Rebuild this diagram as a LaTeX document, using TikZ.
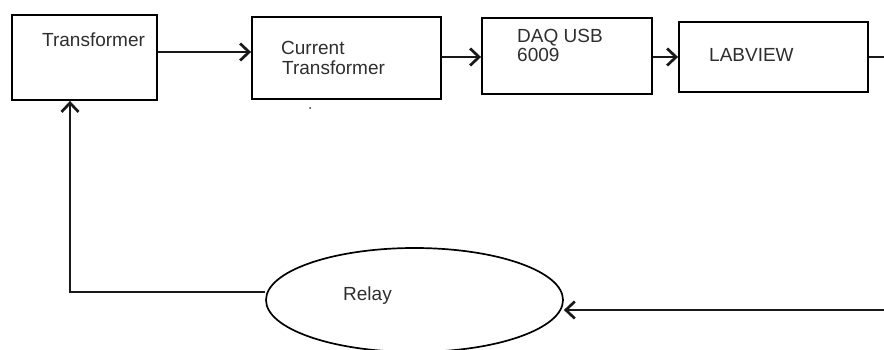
\documentclass[tikz,border=0pt]{standalone}
\usepackage{fontspec}
\setmainfont{Liberation Sans}
\usetikzlibrary{arrows.meta,shapes.geometric}
\begin{document}
\begin{tikzpicture}[x=1pt,y=-1pt,
  box/.style={draw=black,line width=1.9pt,rectangle,inner sep=0pt},
  lbl/.style={text=black!82,font=\fontsize{19}{21}\selectfont,inner sep=0pt,anchor=base west,align=left},
  conn/.style={draw=black!90,line width=1.7pt},
  arr/.style={conn,-{Straight Barb[length=9pt,width=17pt,line width=2.7pt]}}]
\useasboundingbox (0,0) rectangle (884,350);
% boxes
\node[box,minimum width=145pt,minimum height=85pt] (T) at (84.5,57.5) {};
\node[box,minimum width=189pt,minimum height=82pt] (CT) at (346.5,58) {};
\node[box,minimum width=170pt,minimum height=76pt] (DAQ) at (567,56) {};
\node[box,minimum width=189pt,minimum height=70pt] (LV) at (773.5,57) {};
\node[draw=black,line width=1.7pt,ellipse,minimum width=297pt,minimum height=104pt,inner sep=0pt] (R) at (414.5,300) {};
% labels
\node[lbl] (tT) at (42,47) {Transformer};
\node[lbl] (tC1) at (281,55) {Current};
\node[lbl] (tC2) at (282,75) {Transformer};
\node[lbl] (tD1) at (517,43) {DAQ USB};
\node[lbl] (tD2) at (517,62) {6009};
\node[lbl] (tL) at (709,62) {LABVIEW};
\node[lbl] (tR) at (343,300) {Relay};
% stray dot
\fill[black!80] (310,108) circle (1pt);
% connectors
\coordinate (outL) at (884,57);
\coordinate (inR) at (884,310);
\coordinate (bend) at (70,292);
\draw[arr] (T.east |- 0,52) -- (CT.west |- 0,52);
\draw[arr] (CT.east |- 0,57) -- (DAQ.west |- 0,57);
\draw[arr] (DAQ.east |- 0,57) -- (LV.west |- 0,57);
\draw[conn] (LV.east |- outL) -- (outL);
\draw[arr] (inR) -- (R.east |- 0,310);
\draw[arr] (R.west |- bend) -- (bend) -- (bend |- T.south);
\end{tikzpicture}
\end{document}
